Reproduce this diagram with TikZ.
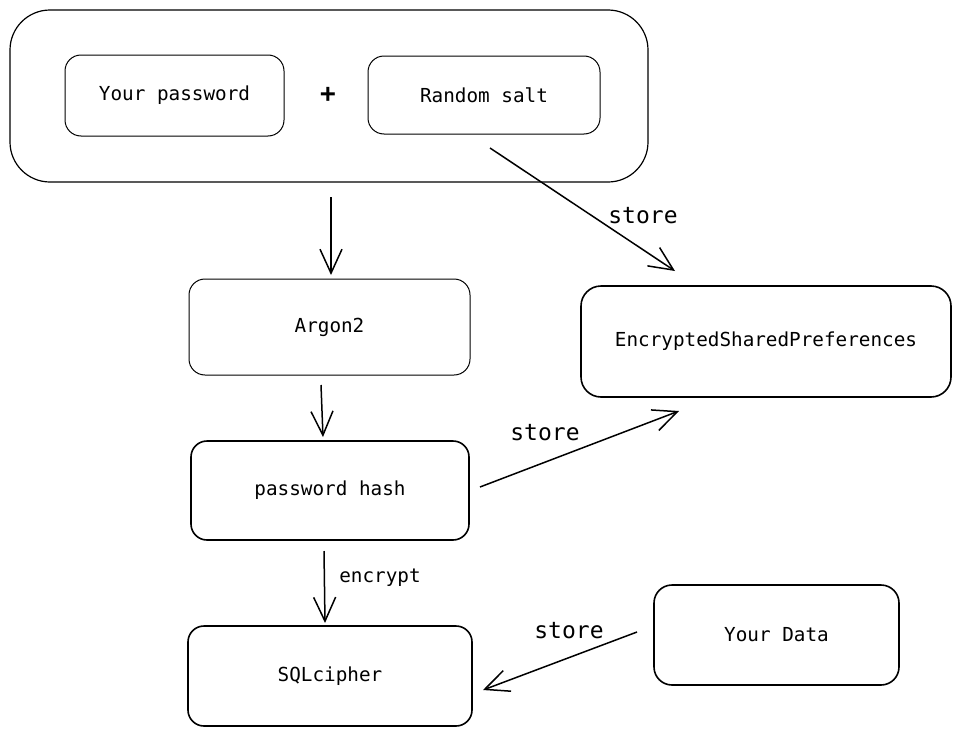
\documentclass[tikz,border=0pt]{standalone}
\usepackage{fontspec}
\setmonofont{DejaVu Sans Mono}
\usetikzlibrary{arrows.meta}
\begin{document}
\begin{tikzpicture}[x=1pt,y=-1pt,
  box/.style={draw, rounded corners=16pt, inner sep=0pt, font=\ttfamily\fontsize{19.3}{22}\selectfont},
  thinbox/.style={box, line width=1pt},
  thickbox/.style={box, line width=1.6pt},
  arr/.style={line width=1.5pt, -{Straight Barb[length=24pt,width=22pt,line width=1.5pt]}},
  lbl/.style={font=\ttfamily\fontsize{23}{26}\selectfont, inner sep=0pt},
  slbl/.style={font=\ttfamily\fontsize{19.3}{22}\selectfont, inner sep=0pt}]
\useasboundingbox (0,0) rectangle (961,736);
% outer group
\node[draw, line width=1.2pt, rounded corners=40pt, minimum width=638pt, minimum height=172pt] (outer) at (329,96) {};
\node[thinbox, minimum width=219pt, minimum height=81pt] (pw) at (174.5,95.5) {Your password};
\node[thinbox, minimum width=232pt, minimum height=78pt] (salt) at (484,95) {Random salt};
\node[font=\ttfamily\bfseries\fontsize{26}{28}\selectfont, inner sep=0pt] (plus) at (328,95) {+};
% main boxes
\node[thinbox, minimum width=281pt, minimum height=96pt] (argon) at (329.5,327) {Argon2};
\node[thickbox, minimum width=278pt, minimum height=99pt] (hash) at (330,490.5) {password hash};
\node[thickbox, minimum width=284pt, minimum height=100pt] (sql) at (330,676) {SQLcipher};
\node[thickbox, rounded corners=20pt, minimum width=370pt, minimum height=111pt] (esp) at (766,341.5) {EncryptedSharedPreferences};
\node[thickbox, rounded corners=18pt, minimum width=245pt, minimum height=100pt] (data) at (776.5,635) {Your Data};
% connector end points
\coordinate (a1s) at (331,197); \coordinate (a1e) at (331,275);
\coordinate (a2s) at (321,385); \coordinate (a2e) at (323,437);
\coordinate (a3s) at (490,148); \coordinate (a3e) at (675,271);
\coordinate (a4s) at (480,487); \coordinate (a4e) at (679,411);
\coordinate (a5s) at (324,551); \coordinate (a5e) at (325,623);
\coordinate (a6s) at (637,632); \coordinate (a6e) at (483,690);
\draw[arr] (a1s) -- (a1e);
\draw[arr] (a2s) -- (a2e);
\draw[arr] (a3s) -- (a3e);
\draw[arr] (a4s) -- (a4e);
\draw[arr] (a5s) -- (a5e);
\draw[arr] (a6s) -- (a6e);
% labels
\node[lbl] (l3) at (643,216) {store};
\node[lbl] (l4) at (545,433) {store};
\node[slbl] (l5) at (380,578) {encrypt};
\node[lbl] (l6) at (569,631) {store};
\end{tikzpicture}
\end{document}
